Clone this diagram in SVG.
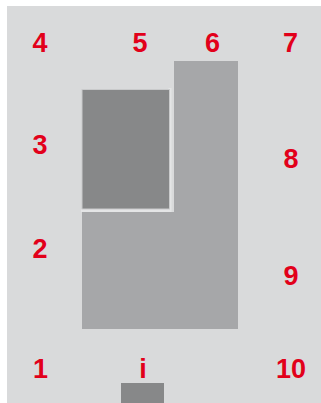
<svg xmlns="http://www.w3.org/2000/svg" width="321" height="403" viewBox="0 0 321 403">
<style>
.lbl{font-family:"Liberation Sans",Arial,sans-serif;font-weight:bold;font-size:27px;fill:#e2001a;text-anchor:middle}
.dark{fill:#878889}
.light{fill:#a6a7a9}
</style>
<rect x="0" y="0" width="321" height="403" fill="#ffffff"/>
<rect id="background" x="7" y="6" width="314" height="397" fill="#d9dadb"/>
<g id="block-light">
<path class="light" d="M174 61H238V329H82V212H174Z"/>
</g>
<g id="gap">
<path d="M170 88V210.5H81" fill="none" stroke="#e4e5e6" stroke-width="3"/>
</g>
<g id="block-dark">
<rect class="dark" x="82" y="89.5" width="87.5" height="119.5" stroke="#c9cacb" stroke-width="1"/>
</g>
<g id="block-small">
<rect class="dark" x="121" y="383" width="43" height="20"/>
</g>
<g id="labels">
<text class="lbl" x="40" y="51.5">4</text>
<text class="lbl" x="140" y="51.5">5</text>
<text class="lbl" x="212.5" y="51.5">6</text>
<text class="lbl" x="290.5" y="51.5">7</text>
<text class="lbl" x="40" y="154">3</text>
<text class="lbl" x="291" y="168">8</text>
<text class="lbl" x="40" y="258">2</text>
<text class="lbl" x="291" y="285">9</text>
<text class="lbl" x="40.5" y="378">1</text>
<text class="lbl" x="143" y="378">i</text>
<text class="lbl" x="291" y="378">10</text>
</g>
</svg>
